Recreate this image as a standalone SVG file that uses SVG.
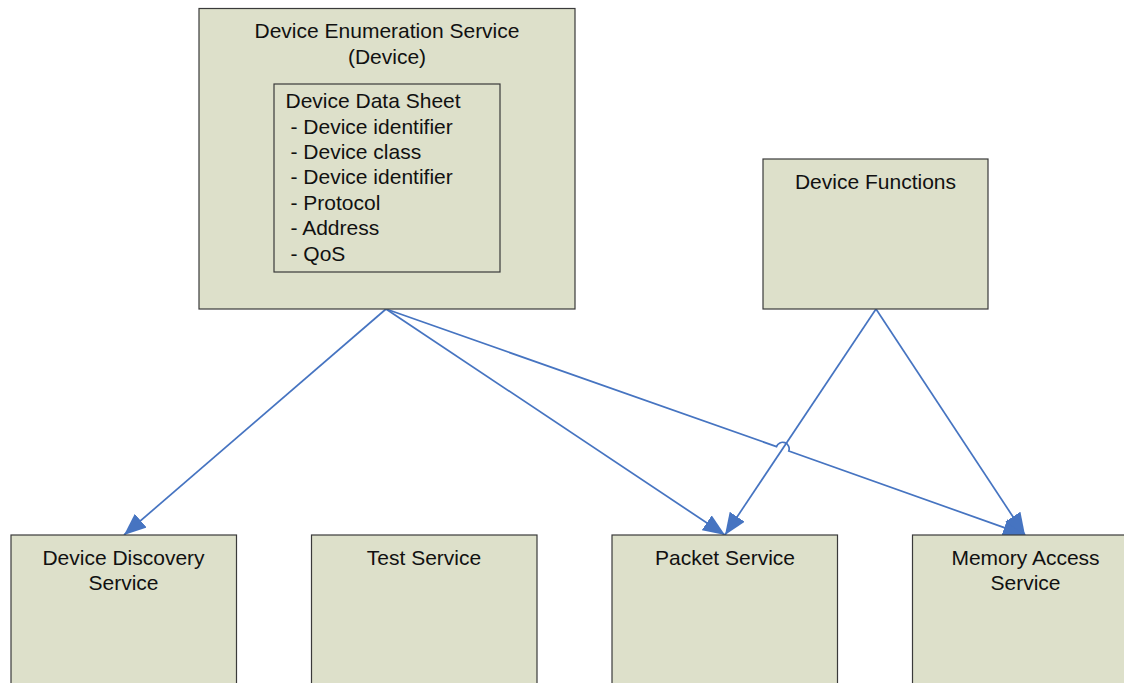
<svg xmlns="http://www.w3.org/2000/svg" width="1124" height="683" viewBox="0 0 1124 683">
  <defs>
    <marker id="arrow" viewBox="0 0 22 18" refX="22" refY="9" markerWidth="22" markerHeight="18" markerUnits="userSpaceOnUse" orient="auto">
      <path d="M0,0 L22,9 L0,18 z" fill="#4674C1"/>
    </marker>
    <style>
      .box { fill: #DDE0CA; stroke: #3A3A3A; stroke-width: 1.2; }
      .inner { fill: none; stroke: #3A3A3A; stroke-width: 1.2; }
      .lbl { font-family: "Liberation Sans", Arial, sans-serif; font-size: 21px; fill: #111; }
      .c { text-anchor: middle; }
      .conn { fill: none; stroke: #4674C1; stroke-width: 1.7; marker-end: url(#arrow); }
    </style>
  </defs>
  <rect width="1124" height="683" fill="#FFFFFF"/>

  <g id="connectors">
    <path class="conn" d="M386,309 L124,535"/>
    <path class="conn" d="M386,309 L725,535"/>
    <path class="conn" d="M386,309 L776.5,446.6 A6.5,6.5 0 0 1 788.8,451 L1025,535"/>
    <path class="conn" d="M876,309 L725,535"/>
    <path class="conn" d="M876,309 L1025,535"/>
  </g>

  <g id="device-enumeration-service">
    <rect class="box" x="199" y="8.5" width="376" height="300.5"/>
    <text class="lbl c" x="387" y="38">Device Enumeration Service</text>
    <text class="lbl c" x="387" y="64">(Device)</text>
    <g id="device-data-sheet">
      <rect class="inner" x="274" y="84" width="226" height="188"/>
      <text class="lbl" x="285.5" y="108">Device Data Sheet</text>
      <text class="lbl" x="290.5" y="133.5">- Device identifier</text>
      <text class="lbl" x="290.5" y="159">- Device class</text>
      <text class="lbl" x="290.5" y="184">- Device identifier</text>
      <text class="lbl" x="290.5" y="209.5">- Protocol</text>
      <text class="lbl" x="290.5" y="235">- Address</text>
      <text class="lbl" x="290.5" y="260.5">- QoS</text>
    </g>
  </g>

  <g id="device-functions">
    <rect class="box" x="763" y="159" width="225" height="150"/>
    <text class="lbl c" x="875.5" y="189">Device Functions</text>
  </g>

  <g id="device-discovery-service">
    <rect class="box" x="11" y="535" width="225.5" height="160"/>
    <text class="lbl c" x="123.5" y="565">Device Discovery</text>
    <text class="lbl c" x="123.5" y="589.5">Service</text>
  </g>

  <g id="test-service">
    <rect class="box" x="311.5" y="535" width="225.5" height="160"/>
    <text class="lbl c" x="424" y="565">Test Service</text>
  </g>

  <g id="packet-service">
    <rect class="box" x="612" y="535" width="225.5" height="160"/>
    <text class="lbl c" x="725" y="565">Packet Service</text>
  </g>

  <g id="memory-access-service">
    <rect class="box" x="912.5" y="535" width="225.5" height="160"/>
    <text class="lbl c" x="1025.5" y="565">Memory Access</text>
    <text class="lbl c" x="1025.5" y="589.5">Service</text>
  </g>
</svg>
